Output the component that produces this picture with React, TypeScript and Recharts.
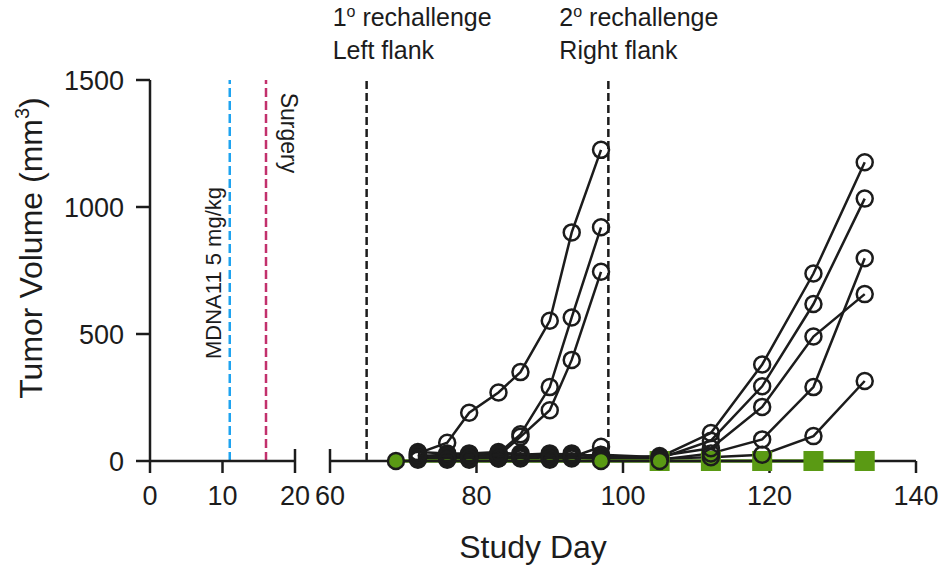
import React from "react";
import { LineChart, Line, XAxis, YAxis, ReferenceLine } from "recharts";

const FONT = "'Liberation Sans', Arial, sans-serif";
const INK = "#1c1c1c";
const GREEN = "#5a9a14";

// study days with measurements
const days = [69, 72, 76, 79, 83, 86, 90, 93, 97, 105, 112, 119, 126, 133];

// tumours after the 1st rechallenge (left flank), off study after day 97
const leftA = [null, 30, 72, 190, 270, 350, 552, 900, 1225, null, null, null, null, null];
const leftB = [null, 15, 20, 25, 30, 105, 291, 565, 920, null, null, null, null, null];
const leftC = [null, 10, 15, 10, 20, 95, 200, 398, 745, null, null, null, null, null];
const leftD = [null, 25, 10, 20, 15, 20, 25, 15, 56, null, null, null, null, null];

// mice that grew after the 2nd rechallenge (right flank)
const rightA = [null, 20, 25, 15, 10, 20, 15, 20, 25, 15, 110, 380, 738, 1176];
const rightB = [null, 35, 30, 30, 35, 25, 30, 25, 20, 10, 80, 294, 618, 1033];
const rightC = [null, 5, 10, 5, 10, 10, 5, 10, 15, 5, 30, 85, 291, 798];
const rightD = [null, 15, 20, 25, 20, 15, 20, 30, 10, 20, 50, 213, 490, 657];
const rightE = [null, 25, 5, 10, 25, 30, 10, 15, 5, 10, 15, 25, 98, 315];

// tumour free group: circles up to day 105, squares after
const greenCircles = [0, null, null, null, null, null, null, null, 0, 0, null, null, null, null];
const greenSquares = [null, null, null, null, null, null, null, null, null, 0, 0, 0, 0, 0];

const blackSeries: Record<string, (number | null)[]> = {
  leftA, leftB, leftC, leftD, rightA, rightB, rightC, rightD, rightE,
};

const yTicks = [0, 500, 1000, 1500];
const leftTicks = [0, 10, 20];
const rightTicks = [60, 80, 100, 120, 140];

const treatmentDay = 11;
const surgeryDay = 16;
const rechallenge1Day = 65;
const rechallenge2Day = 98;

const rows = days.map((day, i) => {
  const row: Record<string, number | null> = {
    day,
    greenCircles: greenCircles[i],
    greenSquares: greenSquares[i],
  };
  Object.keys(blackSeries).forEach((k) => (row[k] = blackSeries[k][i]));
  return row;
});

// early phase has no volumes plotted, only the events
const earlyRows = [{ day: treatmentDay }, { day: surgeryDay }];

const TICK_SIZE = 12;
const TICK_MARGIN = 13;

// x tick, with a cap across the axis at the break
const XTick = (props: any) => {
  const { x, y, payload } = props;
  const axisY = y - TICK_SIZE - TICK_MARGIN;
  const cap = payload.value === 20 || payload.value === 60;
  return (
    <g>
      {cap && <line x1={x} x2={x} y1={axisY - 12} y2={axisY} stroke={INK} strokeWidth={2.5} />}
      <text x={x} y={y} dy="0.71em" textAnchor="middle" fontSize={27} fill={INK} fontFamily={FONT}>
        {payload.value}
      </text>
    </g>
  );
};

const SquareDot = (props: any) => {
  const { cx, cy, value, index } = props;
  if (cx == null || cy == null || value == null) return <g key={`sq-${index}`} />;
  return <rect key={`sq-${index}`} x={cx - 10} y={cy - 10} width={20} height={20} fill={GREEN} />;
};

const TopNote = ({ viewBox, ordinal, flank, dx }: any) => {
  const { x, y } = viewBox;
  return (
    <g fontFamily={FONT} fill={INK} fontSize={25}>
      <text x={x + dx} y={y - 54}>
        <tspan>{ordinal}</tspan>
        <tspan dy={-9} fontSize={16}>o</tspan>
        <tspan dy={9}> rechallenge</tspan>
      </text>
      <text x={x + dx} y={y - 21}>{flank}</text>
    </g>
  );
};

const SideNote = ({ viewBox, text, shiftX, shiftY, rot, size }: any) => {
  const { x, y } = viewBox;
  return (
    <text
      transform={`translate(${x + shiftX},${y + shiftY}) rotate(${rot})`}
      textAnchor="middle"
      fontSize={size}
      fill={INK}
      fontFamily={FONT}
    >
      {text}
    </text>
  );
};

const axisLine = { stroke: INK, strokeWidth: 2.5 };

export default function App() {
  return (
    <div style={{ position: "absolute", left: 0, top: 0, width: 940, height: 569, background: "#fff" }}>
      <LineChart
        width={940}
        height={569}
        data={earlyRows}
        margin={{ top: 80, right: 645, bottom: 78, left: 70 }}
        style={{ position: "absolute", left: 0, top: 0 }}
      >
        <XAxis
          dataKey="day"
          type="number"
          domain={[0, 20]}
          ticks={leftTicks}
          allowDataOverflow
          height={30}
          axisLine={axisLine}
          tickLine={axisLine}
          tickSize={TICK_SIZE}
          tickMargin={TICK_MARGIN}
          tick={<XTick />}
          interval={0}
        />
        <YAxis
          type="number"
          domain={[0, 1500]}
          ticks={yTicks}
          allowDataOverflow
          width={80}
          axisLine={axisLine}
          tickLine={axisLine}
          tickSize={14}
          tickMargin={12}
          tick={{ fontSize: 27, fill: INK, fontFamily: FONT }}
          interval={0}
        />
        <ReferenceLine
          x={treatmentDay}
          stroke="#1ea3f0"
          strokeWidth={2.5}
          strokeDasharray="9 4"
          label={<SideNote text="MDNA11 5 mg/kg" shiftX={-9} shiftY={193} rot={-90} size={22} />}
        />
        <ReferenceLine
          x={surgeryDay}
          stroke="#c2306c"
          strokeWidth={2.5}
          strokeDasharray="9 4"
          label={<SideNote text="Surgery" shiftX={15} shiftY={53} rot={90} size={23} />}
        />
      </LineChart>

      <LineChart
        width={940}
        height={569}
        data={rows}
        margin={{ top: 80, right: 24, bottom: 78, left: 330 }}
        style={{ position: "absolute", left: 0, top: 0 }}
      >
        <XAxis
          dataKey="day"
          type="number"
          domain={[60, 140]}
          ticks={rightTicks}
          height={30}
          axisLine={axisLine}
          tickLine={axisLine}
          tickSize={TICK_SIZE}
          tickMargin={TICK_MARGIN}
          tick={<XTick />}
          interval={0}
        />
        <YAxis type="number" domain={[0, 1500]} hide />
        <ReferenceLine
          x={rechallenge1Day}
          stroke={INK}
          strokeWidth={2.5}
          strokeDasharray="8 4"
          label={<TopNote ordinal="1" flank="Left flank" dx={-34} />}
        />
        <ReferenceLine
          x={rechallenge2Day}
          stroke={INK}
          strokeWidth={2.5}
          strokeDasharray="8 4"
          label={<TopNote ordinal="2" flank="Right flank" dx={-49} />}
        />
        <Line
          dataKey="greenSquares"
          stroke={GREEN}
          strokeWidth={3.5}
          dot={<SquareDot />}
          isAnimationActive={false}
        />
        {Object.keys(blackSeries).map((k) => (
          <Line
            key={k}
            dataKey={k}
            stroke={INK}
            strokeWidth={2.5}
            dot={{ r: 8, fill: "none", stroke: INK, strokeWidth: 2.5 }}
            isAnimationActive={false}
          />
        ))}
        <Line
          dataKey="greenCircles"
          stroke={GREEN}
          strokeWidth={3.5}
          connectNulls
          dot={{ r: 8, fill: GREEN, stroke: INK, strokeWidth: 2.5 }}
          isAnimationActive={false}
        />
      </LineChart>

      <svg width={940} height={569} style={{ position: "absolute", left: 0, top: 0 }}>
        <text
          transform="translate(42,248) rotate(-90)"
          textAnchor="middle"
          fontSize={32}
          fill={INK}
          fontFamily={FONT}
        >
          Tumor Volume (mm<tspan dy={-13} fontSize={20}>3</tspan>
          <tspan dy={13}>)</tspan>
        </text>
        <text x={533} y={558} textAnchor="middle" fontSize={32} fill={INK} fontFamily={FONT}>
          Study Day
        </text>
      </svg>
    </div>
  );
}
